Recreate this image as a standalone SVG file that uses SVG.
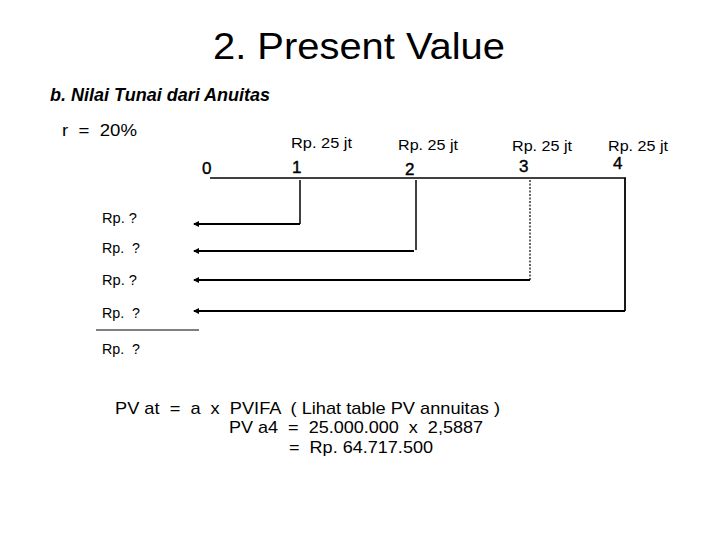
<svg xmlns="http://www.w3.org/2000/svg" width="720" height="540" viewBox="0 0 720 540">
<style>
text{font-family:"Liberation Sans",Arial,sans-serif;fill:#000;white-space:pre}
.t{font-size:37px}
.h{font-size:18px;font-weight:bold;font-style:italic}
.n{font-size:17px}
.b{font-size:17px;stroke:#000;stroke-width:0.4}
.s{font-size:15px}
.q{font-size:14px}
.ln{stroke:#000;fill:none}
</style>
<defs>
<marker id="ah" viewBox="0 0 6 6" refX="5" refY="3" markerWidth="6" markerHeight="6" markerUnits="userSpaceOnUse" orient="auto">
<path d="M0,0 L6,3 L0,6 z" fill="#000"/>
</marker>
</defs>
<rect width="720" height="540" fill="#fff"/>
<text class="t" x="213" y="59" textLength="292" lengthAdjust="spacingAndGlyphs">2. Present Value</text>
<text class="h" x="50" y="101" textLength="220" lengthAdjust="spacingAndGlyphs">b. Nilai Tunai dari Anuitas</text>
<text class="n" x="62" y="136" textLength="75" lengthAdjust="spacingAndGlyphs">r  =  20%</text>
<g id="timeline">
<line class="ln" x1="210" y1="178" x2="626" y2="178" stroke-width="1.5"/>
<text class="b" x="202" y="174">0</text>
<text class="b" x="292" y="173">1</text>
<text class="b" x="405" y="175">2</text>
<text class="b" x="519" y="172">3</text>
<text class="b" x="613" y="169">4</text>
<text class="s" x="291" y="148" textLength="61" lengthAdjust="spacingAndGlyphs">Rp. 25 jt</text>
<text class="s" x="398" y="150" textLength="60" lengthAdjust="spacingAndGlyphs">Rp. 25 jt</text>
<text class="s" x="512" y="151" textLength="60" lengthAdjust="spacingAndGlyphs">Rp. 25 jt</text>
<text class="s" x="608" y="151" textLength="60" lengthAdjust="spacingAndGlyphs">Rp. 25 jt</text>
</g>
<g id="labels">
<text class="q" x="102" y="223" textLength="35" lengthAdjust="spacingAndGlyphs">Rp. ?</text>
<text class="q" x="102" y="253" textLength="38" lengthAdjust="spacingAndGlyphs">Rp.  ?</text>
<text class="q" x="102" y="285" textLength="35" lengthAdjust="spacingAndGlyphs">Rp. ?</text>
<text class="q" x="102" y="318" textLength="38" lengthAdjust="spacingAndGlyphs">Rp.  ?</text>
<line class="ln" x1="96" y1="330" x2="199" y2="330" stroke-width="1"/>
<text class="q" x="102" y="354" textLength="38" lengthAdjust="spacingAndGlyphs">Rp.  ?</text>
</g>
<g id="connectors">
<path class="ln" d="M300,180 V224" stroke-width="1.5"/>
<path class="ln" d="M300,224 H194" stroke-width="2.2" marker-end="url(#ah)"/>
<path class="ln" d="M416,180 V250" stroke-width="1.5"/>
<path class="ln" d="M414,251 H194" stroke-width="2.2" marker-end="url(#ah)"/>
<path class="ln" d="M530,180 V280" stroke-width="1.2" stroke-dasharray="2,1.5"/>
<path class="ln" d="M530,280 H194" stroke-width="2.2" marker-end="url(#ah)"/>
<path class="ln" d="M625,178 V311" stroke-width="1.8"/>
<path class="ln" d="M625,311 H194" stroke-width="2.2" marker-end="url(#ah)"/>
</g>
<g id="formula">
<text class="n" x="115" y="414" textLength="385" lengthAdjust="spacingAndGlyphs">PV at  =  a  x  PVIFA  ( Lihat table PV annuitas )</text>
<text class="n" x="229" y="433" textLength="254" lengthAdjust="spacingAndGlyphs">PV a4  =  25.000.000  x  2,5887</text>
<text class="n" x="289" y="453" textLength="144" lengthAdjust="spacingAndGlyphs">=  Rp. 64.717.500</text>
</g>
</svg>
